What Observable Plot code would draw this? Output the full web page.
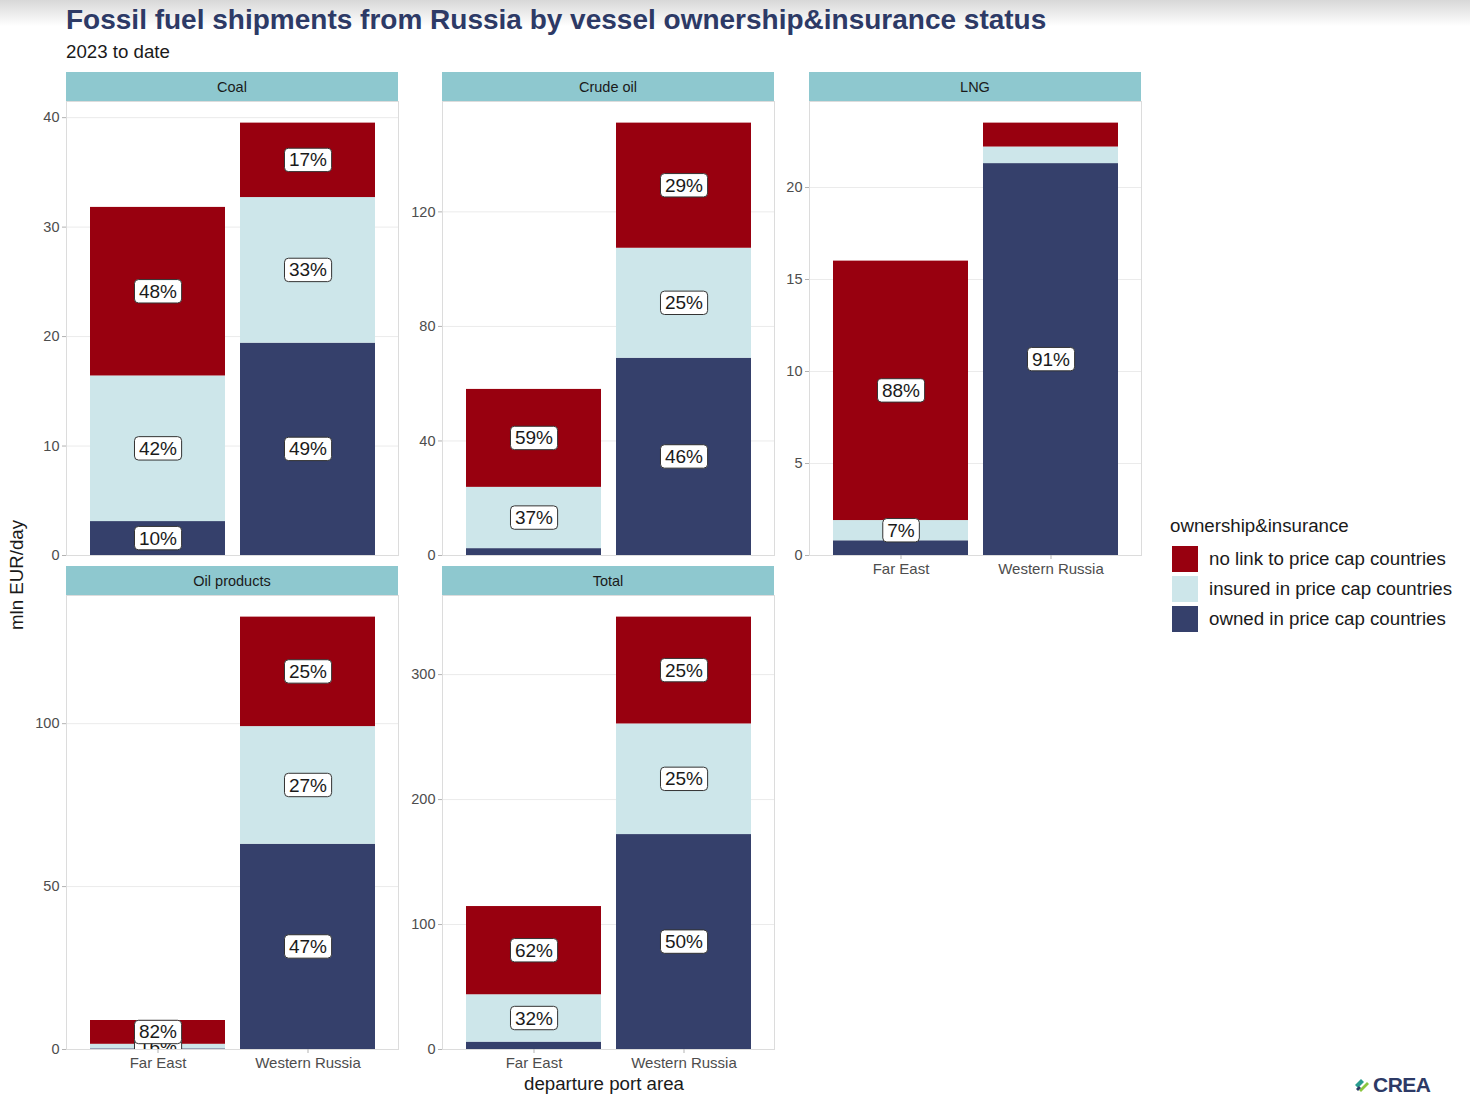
<!DOCTYPE html>
<html><head><meta charset="utf-8">
<script src="https://cdn.jsdelivr.net/npm/d3@7"></script>
<script src="https://cdn.jsdelivr.net/npm/@observablehq/plot@0.6"></script>
<style>
body{margin:0;background:#fff;font-family:"Liberation Sans",Arial,Helvetica,sans-serif;}
#root{position:relative;width:1470px;height:1102px;overflow:hidden;background:#fff;}
#shade{position:absolute;left:0;top:0;width:1470px;height:26px;background:linear-gradient(#d8d8d8,#ffffff);}
.strip{position:absolute;background:#8ec8cf;color:#1a1a1a;font-size:14.5px;display:flex;align-items:center;justify-content:center;height:29px;}
.txt{position:absolute;white-space:nowrap;}
.panel{position:absolute;}
.panel svg{overflow:visible;}
</style></head><body><div id="root"><div id="shade"></div></div>
<script>
const fuels = ["Coal", "Crude oil", "LNG", "Oil products", "Total"];
const regions = ["Far East", "Western Russia"];
// stacking order bottom -> top
const statuses = ["owned in price cap countries", "insured in price cap countries", "no link to price cap countries"];
const statusColors = ["#35406b", "#cde6ea", "#98000f"];
const legendOrder = ["no link to price cap countries", "insured in price cap countries", "owned in price cap countries"];

// mln EUR/day, indexed like fuels
const ownedFarEast   = [3.1, 2.4, 0.8, 0.2, 5.9];
const insuredFarEast = [13.3, 21.4, 1.1, 1.4, 37.9];
const noLinkFarEast  = [15.4, 34.2, 14.1, 7.3, 70.6];
const ownedWestern   = [19.4, 68.9, 21.3, 63.0, 172.0];
const insuredWestern = [13.3, 38.4, 0.9, 36.1, 88.5];
const noLinkWestern  = [6.8, 43.7, 1.3, 33.6, 85.5];

// share labels as printed
const ownedFarEastLabel   = ["10%", "", "", "", ""];
const insuredFarEastLabel = ["42%", "37%", "7%", "16%", "32%"];
const noLinkFarEastLabel  = ["48%", "59%", "88%", "82%", "62%"];
const ownedWesternLabel   = ["49%", "46%", "91%", "47%", "50%"];
const insuredWesternLabel = ["33%", "25%", "", "27%", "25%"];
const noLinkWesternLabel  = ["17%", "29%", "", "25%", "25%"];

const yTicks = [[0, 10, 20, 30, 40], [0, 40, 80, 120], [0, 5, 10, 15, 20], [0, 50, 100], [0, 100, 200, 300]];

const series = {
  "Far East": [[ownedFarEast, ownedFarEastLabel], [insuredFarEast, insuredFarEastLabel], [noLinkFarEast, noLinkFarEastLabel]],
  "Western Russia": [[ownedWestern, ownedWesternLabel], [insuredWestern, insuredWesternLabel], [noLinkWestern, noLinkWesternLabel]]
};
const table = [];
fuels.forEach((fuel, i) => {
  regions.forEach(region => {
    series[region].forEach(([vals, labs], s) => {
      table.push({fuel, region, status: statuses[s], value: vals[i], label: labs[i]});
    });
  });
});

const FONT = '"Liberation Sans", Arial, Helvetica, sans-serif';
const root = document.getElementById("root");
const panelW = 332, panelH = 454, mL = 50, mB = 34;
const colLeft = [66, 442, 809];
const frameTop = [101, 595];
const layout = [
  {i: 0, c: 0, r: 0, showX: false},
  {i: 1, c: 1, r: 0, showX: false},
  {i: 2, c: 2, r: 0, showX: true},
  {i: 3, c: 0, r: 1, showX: true},
  {i: 4, c: 1, r: 1, showX: true}
];

function panel(i, showX) {
  const rows = table.filter(d => d.fuel === fuels[i]);
  const top = d3.max(regions, r => d3.sum(rows.filter(d => d.region === r), d => d.value));
  return Plot.plot({
    width: mL + panelW, height: panelH + mB,
    marginLeft: mL, marginRight: 0, marginTop: 0, marginBottom: mB,
    style: {fontFamily: FONT, background: "transparent", overflow: "visible"},
    x: {domain: regions, paddingInner: 0.1, paddingOuter: 0.15, axis: null, label: null},
    y: {domain: [0, top * 1.05], axis: null, label: null},
    color: {domain: statuses, range: statusColors},
    marks: [
      Plot.gridY(yTicks[i], {stroke: "#ebebeb", strokeOpacity: 1, strokeWidth: 1}),
      Plot.barY(rows, Plot.stackY({x: "region", y: "value", fill: "status"})),
      Plot.frame({stroke: "#dcdcdc", strokeWidth: 1}),
      Plot.axisY(yTicks[i], {tickSize: 4, tickPadding: 3, fontSize: 14.5, color: "#4d4d4d", stroke: "#b3b3b3", label: null}),
      showX ? Plot.axisX({tickSize: 4, tickPadding: 4, fontSize: 15, color: "#4d4d4d", stroke: "#b3b3b3", label: null}) : null,
      Plot.text(rows, Plot.stackY({x: "region", y: "value", text: "label", fontSize: 19, fill: "#1a1a1a", clip: true}))
    ]
  });
}

const NS = "http://www.w3.org/2000/svg";
layout.forEach(({i, c, r, showX}) => {
  const strip = document.createElement("div");
  strip.className = "strip";
  strip.style.left = colLeft[c] + "px";
  strip.style.top = (frameTop[r] - 29) + "px";
  strip.style.width = panelW + "px";
  strip.textContent = fuels[i];
  root.appendChild(strip);

  const wrap = document.createElement("div");
  wrap.className = "panel";
  wrap.style.left = (colLeft[c] - mL) + "px";
  wrap.style.top = frameTop[r] + "px";
  const svg = panel(i, showX);
  wrap.appendChild(svg);
  root.appendChild(wrap);

  // label boxes behind each share label (geom_label style)
  Array.from(svg.querySelectorAll("text")).filter(t => /%$/.test(t.textContent)).forEach(t => {
    const bb = t.getBBox();
    if (!bb.width) return;
    const rect = document.createElementNS(NS, "rect");
    rect.setAttribute("x", bb.x - 4.5);
    rect.setAttribute("y", bb.y - 1.2);
    rect.setAttribute("width", bb.width + 9);
    rect.setAttribute("height", bb.height + 2.4);
    rect.setAttribute("rx", 4);
    rect.setAttribute("fill", "#ffffff");
    rect.setAttribute("stroke", "#333333");
    rect.setAttribute("stroke-width", 1);
    const tr = t.getAttribute("transform");
    if (tr) rect.setAttribute("transform", tr);
    t.parentNode.insertBefore(rect, t);
  });
});

function addText(txt, css) {
  const d = document.createElement("div");
  d.className = "txt";
  d.textContent = txt;
  Object.assign(d.style, css);
  root.appendChild(d);
  return d;
}
addText("Fossil fuel shipments from Russia by vessel ownership&insurance status",
  {left: "66px", top: "4px", fontSize: "28px", fontWeight: "bold", color: "#2d3a66"});
addText("2023 to date", {left: "66px", top: "41px", fontSize: "18.7px", color: "#1a1a1a"});
addText("departure port area", {left: "604px", top: "1073px", fontSize: "18.7px", color: "#1a1a1a", transform: "translateX(-50%)"});
addText("mln EUR/day", {left: "17px", top: "575px", fontSize: "18.7px", color: "#1a1a1a", transform: "translate(-50%,-50%) rotate(-90deg)"});

// legend
addText("ownership&insurance", {left: "1170px", top: "515px", fontSize: "18.7px", color: "#1a1a1a"});
legendOrder.forEach((s, k) => {
  const sw = document.createElement("div");
  Object.assign(sw.style, {position: "absolute", left: "1172px", top: (546 + 30 * k) + "px", width: "26px", height: "26px",
    background: statusColors[statuses.indexOf(s)]});
  root.appendChild(sw);
  addText(s, {left: "1209px", top: (548 + 30 * k) + "px", fontSize: "18.7px", color: "#1a1a1a"});
});

// CREA mark
const logo = document.createElement("div");
Object.assign(logo.style, {position: "absolute", left: "1353px", top: "1073px", display: "flex", alignItems: "center", gap: "2px"});
logo.innerHTML = '<svg width="18" height="18" viewBox="0 0 18 18"><path d="M2 9 L8 3 L11 6 L5 12 Z" fill="#2a9d8f"/><path d="M6 14 L14 6 L16 8 L8 16 Z" fill="#8cc63f"/><path d="M3 13 L6 10 L8 12 L5 15 Z" fill="#2d3a66"/></svg>' +
  '<span style="font-family:' + FONT.replace(/"/g, "'") + ';font-weight:bold;font-size:21px;color:#2d3a66;letter-spacing:-0.5px">CREA</span>';
root.appendChild(logo);
</script>
</body></html>
